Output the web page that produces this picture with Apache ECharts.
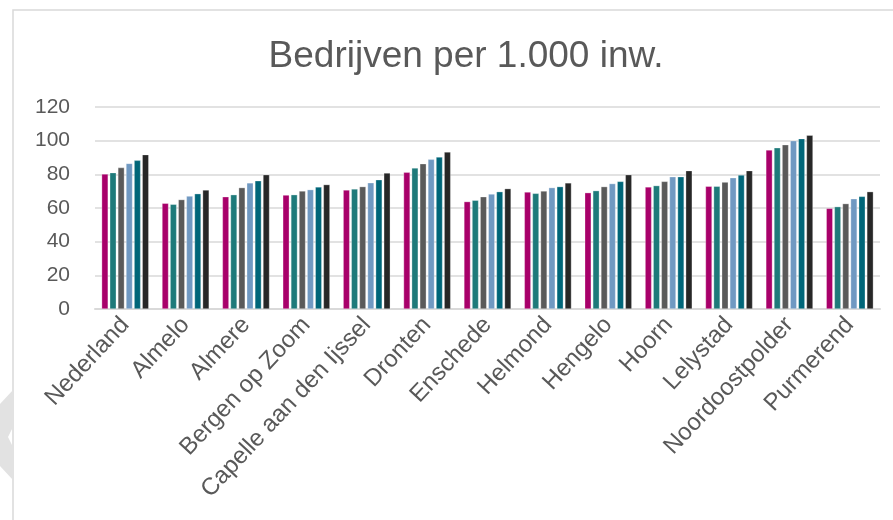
<!DOCTYPE html>
<html>
<head>
<meta charset="utf-8">
<script src="https://cdn.jsdelivr.net/npm/echarts@6/dist/echarts.min.js"></script>
<style>
  html, body { margin: 0; padding: 0; background: #ffffff; }
  #chart { width: 893px; height: 520px; }
</style>
</head>
<body>
<div id="chart"></div>
<script>
// Gemeenten
const categories = ['Nederland', 'Almelo', 'Almere', 'Bergen op Zoom', 'Capelle aan den Ijssel',
  'Dronten', 'Enschede', 'Helmond', 'Hengelo', 'Hoorn', 'Lelystad', 'Noordoostpolder', 'Purmerend'];

// Bedrijven per 1.000 inwoners, per jaar
const y2015 = [80.2, 62.8, 66.7, 67.7, 70.7, 81.2, 63.8, 69.5, 69.1, 72.5, 72.9, 94.5, 59.8];
const y2016 = [81.0, 62.2, 67.9, 67.9, 71.3, 83.8, 64.6, 68.7, 70.3, 73.3, 72.9, 95.8, 60.8];
const y2017 = [84.0, 65.0, 72.1, 70.1, 72.7, 86.3, 66.7, 70.1, 72.7, 75.8, 75.4, 97.6, 62.6];
const y2018 = [86.5, 67.1, 74.9, 70.9, 75.0, 88.9, 68.3, 72.1, 74.5, 78.6, 78.0, 100.0, 65.5];
const y2019 = [88.3, 68.5, 76.2, 72.5, 76.8, 90.3, 69.7, 72.7, 75.8, 78.6, 79.6, 101.2, 66.9];
const y2020 = [91.7, 70.7, 79.8, 73.9, 80.8, 93.3, 71.5, 74.9, 79.8, 82.2, 82.2, 103.2, 69.7];

const seriesNames = ['2015', '2016', '2017', '2018', '2019', '2020'];
const seriesData = [y2015, y2016, y2017, y2018, y2019, y2020];
const colors = ['#A8006A', '#1E7A7A', '#5A5A5A', '#7099C2', '#006679', '#272727'];

// Y-as
const yMin = 0, yMax = 120, yStep = 20;

const chart = echarts.init(document.getElementById('chart'));
chart.setOption({
  animation: false,
  backgroundColor: '#ffffff',
  title: {
    text: 'Bedrijven per 1.000 inw.',
    left: 461,
    top: 33,
    textAlign: 'center',
    textStyle: {
      fontFamily: 'Liberation Sans',
      fontSize: 37,
      fontWeight: 'normal',
      color: '#595959'
    }
  },
  graphic: [
    {
      type: 'rect',
      shape: { x: 13, y: 10, width: 920, height: 540 },
      style: { fill: 'none', stroke: '#d9d9d9', lineWidth: 1.5 },
      silent: true
    },
    {
      type: 'polygon',
      shape: { points: [[0, 404], [13, 390], [13, 427], [8, 437], [13, 447], [13, 480], [0, 466]] },
      style: { fill: '#e2e2e2' },
      silent: true
    }
  ],
  grid: { left: 95, right: 13, top: 107, bottom: 211, containLabel: false },
  xAxis: {
    type: 'category',
    data: categories,
    axisTick: { show: false },
    axisLine: { lineStyle: { color: '#d9d9d9', width: 2 } },
    axisLabel: {
      rotate: 47,
      interval: 0,
      margin: 12,
      fontFamily: 'Liberation Sans',
      fontSize: 24,
      color: '#595959'
    }
  },
  yAxis: {
    type: 'value',
    min: yMin,
    max: yMax,
    interval: yStep,
    axisLine: { show: false },
    axisTick: { show: false },
    splitLine: { lineStyle: { color: '#d9d9d9', width: 1.5 } },
    axisLabel: {
      margin: 25,
      fontFamily: 'Liberation Sans',
      fontSize: 21,
      color: '#595959'
    }
  },
  series: seriesNames.map((name, i) => ({
    name: name,
    type: 'bar',
    data: seriesData[i],
    barGap: '25%',
    barCategoryGap: '22%',
    itemStyle: { color: colors[i], borderColor: 'rgba(255,255,255,0.6)', borderWidth: 0.5 }
  }))
});
</script>
</body>
</html>
